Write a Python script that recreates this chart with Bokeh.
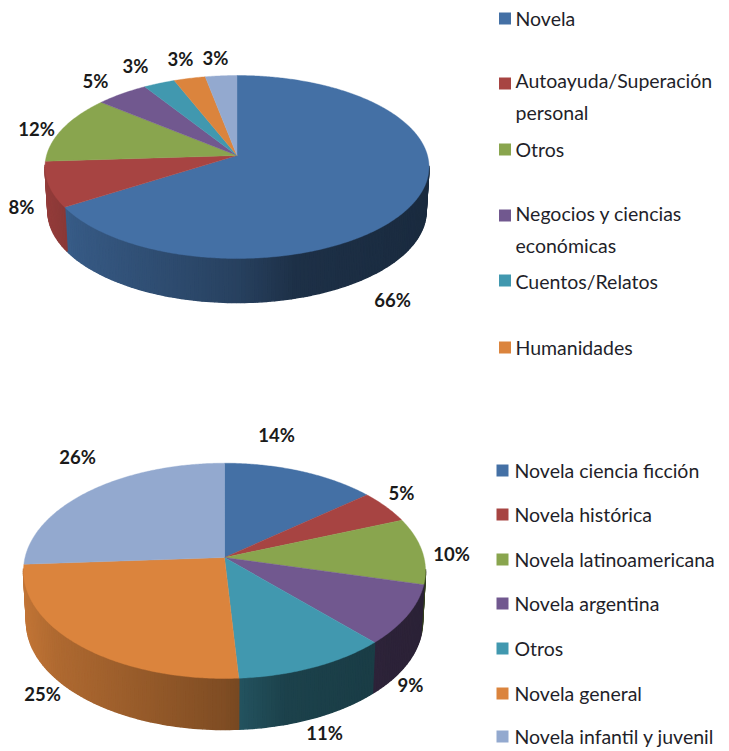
import numpy as np
from bokeh.plotting import figure
from bokeh.models import ColumnDataSource
from bokeh.core.properties import value
from bokeh.embed import file_html
from bokeh.resources import INLINE

# ---- data ----
top_categories = ["Novela", "Autoayuda/Superación\npersonal", "Otros",
                  "Negocios y ciencias\neconómicas", "Cuentos/Relatos", "Humanidades", ""]
top_values = [66, 8, 12, 5, 3, 3, 3]
top_labels = ["66%", "8%", "12%", "5%", "3%", "3%", "3%"]

bottom_categories = ["Novela ciencia ficción", "Novela histórica", "Novela latinoamericana",
                     "Novela argentina", "Otros", "Novela general", "Novela infantil y juvenil"]
bottom_values = [14, 5, 10, 9, 11, 25, 26]
bottom_labels = ["14%", "5%", "10%", "9%", "11%", "25%", "26%"]

colors = ["#4470A5", "#A74442", "#89A54E", "#71588F", "#4198AF", "#DB843D", "#93A9CF"]

# ---- layout (page pixels) ----
top_geom = dict(cx=240.5, apex=159, up=80, down=103, rx=192, depth=44)
bottom_geom = dict(cx=228, apex=561, up=94.3, down=121, rx=201, depth=51)
top_label_pos = [(396, 303), (25, 210), (40, 132), (99, 84), (139, 69), (184, 62), (219, 61)]
bottom_label_pos = [(280, 438), (405, 496), (455, 557), (414, 688), (328, 736), (46, 697), (81, 460)]
top_legend_y = [22, 87, 153, 219, 284, 351]
top_legend_text_y = [22, 100, 153, 233, 285, 351]
bottom_legend_y = [474, 518, 563, 607, 652, 697, 740]
LABEL_SIZE = "18.5px"
LEGEND_SIZE = "19.5px"

p = figure(width=729, height=751, x_range=(0, 729), y_range=(751, 0),
           output_backend="svg", toolbar_location=None, min_border=0,
           outline_line_color=None, background_fill_color="white", margin=(-4, -4, -4, -4))
p.xaxis.visible = False
p.yaxis.visible = False
p.grid.visible = False


def outline(g, theta):
    """Point of the tilted disc's rim, seen in perspective, at clockwise angle theta from top."""
    c = (g["up"] - g["down"]) / (g["up"] + g["down"])
    a = g["up"] * (1 - c)
    r = g["rx"] * np.sqrt(1 - c * c)
    u, v = np.sin(theta), -np.cos(theta)
    den = 1 + c * v
    return g["cx"] + r * u / den, g["apex"] + a * v / den


def shade(rel):
    return np.interp(rel, [-1, -0.85, 0, 0.3, 1], [0.88, 0.80, 0.58, 0.43, 0.38])


def scale_color(hex_color, f):
    rgb = [int(hex_color[i:i + 2], 16) for i in (1, 3, 5)]
    return "#%02x%02x%02x" % tuple(int(round(x * f)) for x in rgb)


def draw_pie(g, values):
    edges = np.cumsum([0] + list(values)) / sum(values) * 2 * np.pi
    sx, sy, sc = [], [], []
    for k in range(len(values)):
        n = max(2, int((edges[k + 1] - edges[k]) / 0.02))
        th = np.linspace(edges[k], edges[k + 1], n + 1)
        x, y = outline(g, th)
        xl = g["cx"] + (x - g["cx"]) * 0.985
        yl = y + g["depth"]
        for i in range(n):
            if -np.cos(th[i]) < 0.12 and -np.cos(th[i + 1]) < 0.12:
                continue
            sx.append([x[i], x[i + 1], xl[i + 1], xl[i]])
            sy.append([y[i], y[i + 1], yl[i + 1], yl[i]])
            rel = (0.5 * (x[i] + x[i + 1]) - g["cx"]) / g["rx"]
            sc.append(scale_color(colors[k], shade(rel)))
    p.patches(xs="xs", ys="ys", fill_color="c", line_color="c", line_width=1.5,
              source=ColumnDataSource(dict(xs=sx, ys=sy, c=sc)))
    fx, fy, fc = [], [], []
    for k in range(len(values)):
        n = max(4, int((edges[k + 1] - edges[k]) / 0.01))
        th = np.linspace(edges[k], edges[k + 1], n + 1)
        x, y = outline(g, th)
        fx.append([g["cx"]] + list(x))
        fy.append([g["apex"]] + list(y))
        fc.append(colors[k])
    p.patches(xs="xs", ys="ys", fill_color="c", line_color="c", line_width=0.4,
              source=ColumnDataSource(dict(xs=fx, ys=fy, c=fc)))


def draw_labels(labels, pos):
    p.text(x=[q[0] for q in pos], y=[q[1] for q in pos], text=labels,
           text_font=value("Lato"), text_font_style="bold", text_font_size=LABEL_SIZE,
           text_color="#1a1a1a", text_align="center", text_baseline="middle")


def draw_legend(cats, swatch_y, text_y, swatch_x, text_x):
    p.rect(x=[swatch_x] * len(swatch_y), y=swatch_y, width=12, height=12,
           fill_color=colors[:len(swatch_y)], line_color=None)
    p.text(x=[text_x] * len(text_y), y=text_y, text=cats[:len(text_y)],
           text_font=value("Lato"), text_font_size=LEGEND_SIZE, text_color="#1f1f2a",
           text_align="left", text_baseline="middle", text_line_height=1.35)


draw_pie(top_geom, top_values)
draw_pie(bottom_geom, bottom_values)
draw_labels(top_labels, top_label_pos)
draw_labels(bottom_labels, bottom_label_pos)
draw_legend(top_categories, top_legend_y, top_legend_text_y, 508.5, 519)
draw_legend(bottom_categories, bottom_legend_y, bottom_legend_y, 506, 518)

open("out.html", "w").write(file_html(p, INLINE))
